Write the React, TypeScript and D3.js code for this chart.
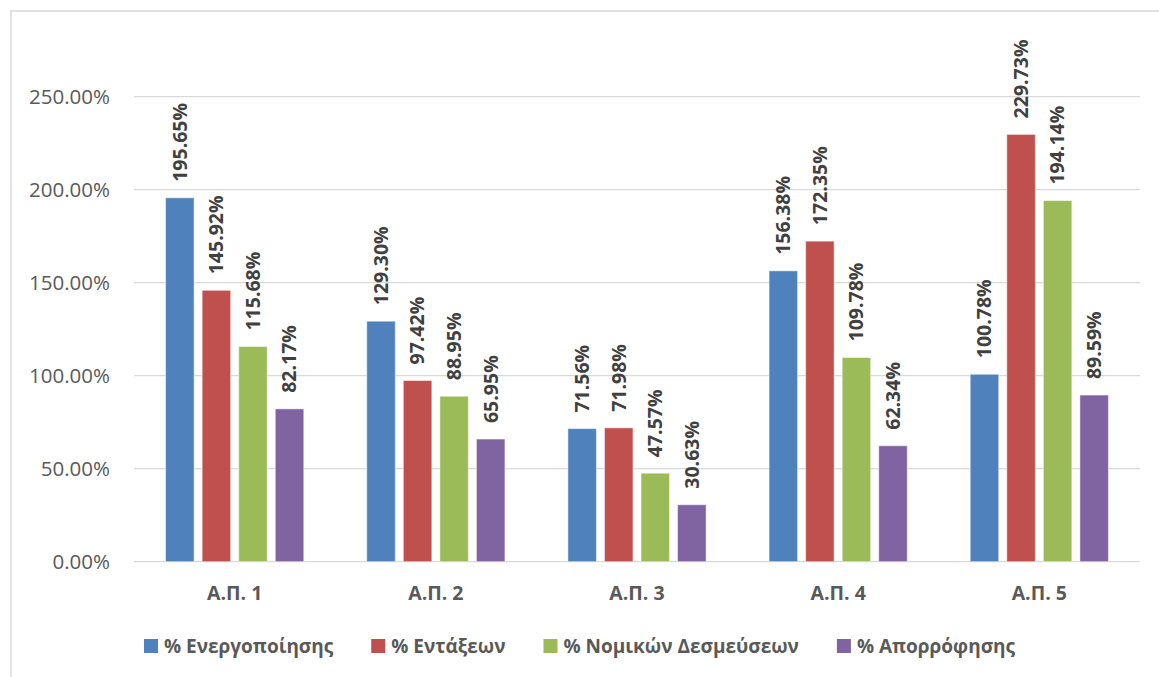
import React, { useRef, useEffect } from 'react';
import * as d3 from 'd3';

const categories = ['Α.Π. 1', 'Α.Π. 2', 'Α.Π. 3', 'Α.Π. 4', 'Α.Π. 5'];
const seriesNames = ['% Ενεργοποίησης', '% Εντάξεων', '% Νομικών Δεσμεύσεων', '% Απορρόφησης'];
const seriesColors = ['#4F81BD', '#C0504D', '#9BBB59', '#8064A2'];

const energopoiisi = [195.65, 129.3, 71.56, 156.38, 100.78];
const entaxeis = [145.92, 97.42, 71.98, 172.35, 229.73];
const desmeuseis = [115.68, 88.95, 47.57, 109.78, 194.14];
const aporrofisi = [82.17, 65.95, 30.63, 62.34, 89.59];
const seriesValues = [energopoiisi, entaxeis, desmeuseis, aporrofisi];

const yTicks = [0, 50, 100, 150, 200, 250];

const W = 1159;
const H = 677;
const FONT = '"Open Sans", "DejaVu Sans", sans-serif';

const App = () => {
  const svgRef = useRef<SVGSVGElement | null>(null);

  useEffect(() => {
    const svg = d3.select(svgRef.current);
    svg.selectAll('*').remove();

    const plot = { left: 134, right: 1140, top: 96.7, bottom: 561.7 };

    const x = d3.scaleBand<string>().domain(categories).range([plot.left, plot.right]).paddingInner(0.313).paddingOuter(0.157);
    const xs = d3.scaleBand<number>().domain(d3.range(seriesNames.length)).range([0, x.bandwidth()]).paddingInner(0.22);
    const y = d3.scaleLinear().domain([0, 250]).range([plot.bottom, plot.top]);

    // chart border
    svg.append('rect')
      .attr('x', 11).attr('y', 11).attr('width', W + 20).attr('height', H + 20)
      .attr('fill', '#fff').attr('stroke', '#d9d9d9').attr('stroke-width', 1.5);

    // gridlines
    svg.append('g').selectAll('line').data(yTicks).join('line')
      .attr('x1', plot.left).attr('x2', plot.right)
      .attr('y1', (d) => y(d)).attr('y2', (d) => y(d))
      .attr('stroke', '#d9d9d9').attr('stroke-width', 1.3);

    // y labels
    svg.append('g').selectAll('text').data(yTicks).join('text')
      .attr('x', 110).attr('y', (d) => y(d)).attr('dy', '0.35em')
      .attr('text-anchor', 'end')
      .attr('font-family', FONT).attr('font-size', 20.5).attr('fill', '#595959')
      .text((d) => d.toFixed(2) + '%');

    // bars
    const rows = categories.flatMap((c, ci) => seriesValues.map((vals, si) => ({ c, si, v: vals[ci] })));
    const bars = svg.append('g');
    bars.selectAll('rect').data(rows).join('rect')
      .attr('x', (d) => (x(d.c) ?? 0) + (xs(d.si) ?? 0))
      .attr('width', xs.bandwidth())
      .attr('y', (d) => y(d.v))
      .attr('height', (d) => y(0) - y(d.v))
      .attr('fill', (d) => seriesColors[d.si])
      .attr('stroke', 'rgba(255,255,255,0.5)').attr('stroke-width', 1);

    // value labels
    bars.selectAll('text').data(rows).join('text')
      .attr('transform', (d) => {
        const cx = (x(d.c) ?? 0) + (xs(d.si) ?? 0) + xs.bandwidth() / 2;
        return `translate(${cx},${y(d.v) - 16}) rotate(-90)`;
      })
      .attr('dy', '0.35em')
      .attr('font-family', FONT).attr('font-size', 19.5).attr('font-weight', 'bold').attr('fill', '#404040')
      .text((d) => d.v.toFixed(2) + '%');

    // x labels
    svg.append('g').selectAll('text').data(categories).join('text')
      .attr('x', (d) => (x(d) ?? 0) + x.bandwidth() / 2).attr('y', 593).attr('dy', '0.35em')
      .attr('text-anchor', 'middle')
      .attr('font-family', FONT).attr('font-size', 19.5).attr('font-weight', 'bold').attr('fill', '#595959')
      .text((d) => d);

    // legend
    const legend = svg.append('g');
    const items = legend.selectAll('g').data(seriesNames).join('g');
    items.append('rect').attr('width', 14).attr('height', 14).attr('y', -7)
      .attr('fill', (_, i) => seriesColors[i]);
    items.append('text').attr('x', 20).attr('dy', '0.35em')
      .attr('font-family', FONT).attr('font-size', 19).attr('font-weight', 'bold').attr('fill', '#595959')
      .text((d) => d);
    const widths: number[] = [];
    items.each(function () {
      const t = d3.select(this).select('text').node() as SVGTextElement;
      widths.push(20 + t.getComputedTextLength());
    });
    const gap = 38;
    const total = d3.sum(widths) + gap * (widths.length - 1);
    let cur = W / 2 - total / 2;
    items.attr('transform', (_, i) => {
      const t = `translate(${cur},646)`;
      cur += widths[i] + gap;
      return t;
    });
  }, []);

  return (
    <div style={{ position: 'absolute', left: 0, top: 0, width: W, height: H, background: '#fff' }}>
      <svg ref={svgRef} width={W} height={H} style={{ display: 'block' }}></svg>
    </div>
  );
};

export default App;
